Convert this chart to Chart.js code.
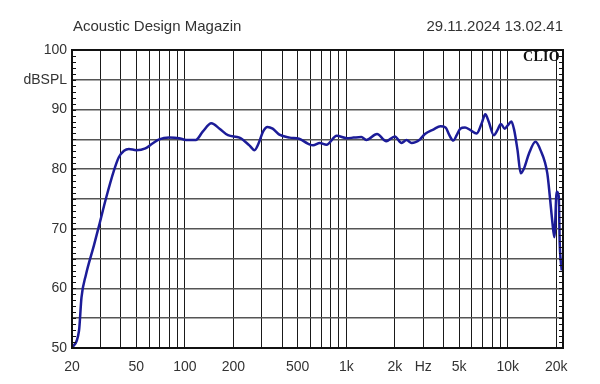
<!DOCTYPE html>
<html>
<head>
<meta charset="utf-8">
<script src="https://cdn.jsdelivr.net/npm/chart.js@4.4.1/dist/chart.umd.min.js"></script>
<style>
    body { margin: 0; background: #fff; }
    #wrap { position: relative; width: 600px; height: 384px; }
    .txt { position: absolute; font-family: "Liberation Sans", Arial, sans-serif; font-size: 15px; line-height: 15px; color: #333; white-space: nowrap; }
    #title { left: 73px; top: 18px; }
    #date { right: 37px; top: 18px; }
    #clio { right: 40px; top: 50px; font-family: "Liberation Serif", "Times New Roman", serif; font-weight: bold; font-size: 14px; line-height: 14px; color: #111; letter-spacing: 0.3px; }
</style>
</head>
<body>
<div id="wrap">
    <canvas id="fr" width="600" height="384"></canvas>
    <div class="txt" id="title">Acoustic Design Magazin</div>
    <div class="txt" id="date">29.11.2024 13.02.41</div>
    <div class="txt" id="clio">CLIO</div>
</div>
<script>
// Frequency response
const freqs = [20, 22.1, 22.9, 24.4, 27.4, 29.4, 32.4, 36.4, 39, 42, 45, 50, 57, 63, 69.4, 80,
    92, 102, 117, 129, 146, 164, 185, 218, 251, 270, 286, 305, 325, 350, 385, 446, 510, 578, 623, 686,
    754, 873, 1010, 1110, 1240, 1330, 1550, 1770, 2000, 2200, 2360, 2540, 2860, 3070, 3480, 3830, 4120, 4350, 4600, 4830,
    5080, 5440, 5850, 6420, 6900, 7260, 7620, 8200, 8650, 9070, 9570, 10030, 10530, 10960, 11500, 12040, 12610, 13530, 14860, 15960,
    17590, 18300, 18910, 19450, 20100, 20700, 21000, 21600];
const splDb = [50.0, 52.9, 58.5, 62.3, 67.3, 70.5, 75.0, 79.8, 82.0, 83.1, 83.4, 83.2, 83.5, 84.3, 85.0, 85.3,
    85.2, 84.9, 84.9, 86.3, 87.7, 86.8, 85.7, 85.3, 84.0, 83.2, 84.3, 86.3, 87.1, 86.8, 85.8, 85.3, 85.1, 84.3, 84.0, 84.4,
    84.1, 85.6, 85.2, 85.3, 85.4, 84.9, 85.9, 84.7, 85.5, 84.4, 84.9, 84.4, 85.0, 85.9, 86.7, 87.2, 87.0, 85.7, 84.8, 85.7,
    86.8, 87.0, 86.6, 86.0, 87.7, 89.2, 88.0, 85.7, 86.6, 87.6, 86.8, 87.4, 88.0, 86.6, 83.2, 79.3, 80.1, 82.6, 84.6, 83.2,
    79.3, 75.0, 71.1, 68.6, 76.2, 75.5, 67.5, 63.0];

// Axis ticks
const freqGrid = [20, 30, 40, 50, 60, 70, 80, 90, 100, 200, 300, 400, 500, 600, 700, 800, 900,
    1000, 2000, 3000, 4000, 5000, 6000, 7000, 8000, 9000, 10000, 20000];
const freqLabels = { 20: '20', 50: '50', 100: '100', 200: '200', 500: '500', 1000: '1k', 2000: '2k',
    3000: 'Hz', 5000: '5k', 10000: '10k', 20000: '20k' };
const dbLabels = { 100: '100', 95: 'dBSPL', 90: '90', 80: '80', 70: '70', 60: '60', 50: '50' };

const tickFont = { family: '"Liberation Sans", Arial, sans-serif', size: 14 };

// Frame + small 1 dB marks on both sides
const framePlugin = {
    id: 'frame',
    afterDatasetsDraw(chart) {
        const { ctx, chartArea: a, scales } = chart;
        ctx.save();
        ctx.strokeStyle = '#111';
        ctx.lineWidth = 1;
        for (let v = 51; v < 100; v++) {
            const y = Math.round(scales.y.getPixelForValue(v)) + 0.5;
            ctx.beginPath();
            ctx.moveTo(a.left, y); ctx.lineTo(a.left + 4, y);
            ctx.moveTo(a.right, y); ctx.lineTo(a.right - 4, y);
            ctx.stroke();
        }
        ctx.lineWidth = 2;
        ctx.strokeRect(a.left, a.top, a.right - a.left, a.bottom - a.top);
        ctx.restore();
    }
};

new Chart(document.getElementById('fr'), {
    type: 'line',
    data: {
        datasets: [{
            data: freqs.map((f, i) => ({ x: f, y: splDb[i] })),
            borderColor: '#1c1c98',
            borderWidth: 2.5,
            pointRadius: 0,
            cubicInterpolationMode: 'monotone',
            fill: false
        }]
    },
    options: {
        responsive: false,
        animation: false,
        events: [],
        layout: { padding: { top: 50, right: 37, left: 0, bottom: 0 } },
        plugins: { legend: { display: false }, tooltip: { enabled: false } },
        scales: {
            x: {
                type: 'logarithmic',
                min: 20,
                max: 22000,
                afterBuildTicks: (scale) => { scale.ticks = freqGrid.map(v => ({ value: v })); },
                afterFit: (scale) => { scale.height = 36; },
                grid: { color: '#1a1a1a', lineWidth: 1, drawTicks: false },
                border: { display: false },
                ticks: {
                    autoSkip: false,
                    maxRotation: 0,
                    padding: 11,
                    color: '#333',
                    font: tickFont,
                    callback: (v) => freqLabels[v] || ''
                }
            },
            y: {
                min: 50,
                max: 100,
                afterFit: (scale) => { scale.width = 72; },
                grid: {
                    drawTicks: false,
                    lineWidth: 1.5,
                    color: (c) => (c.tick && (c.tick.value === 50 || c.tick.value === 100)) ? 'rgba(0,0,0,0)' : '#555'
                },
                border: { display: false },
                ticks: {
                    stepSize: 5,
                    autoSkip: false,
                    padding: 5,
                    color: '#333',
                    font: tickFont,
                    callback: (v) => dbLabels[v] || ''
                }
            }
        }
    },
    plugins: [framePlugin]
});
</script>
</body>
</html>
